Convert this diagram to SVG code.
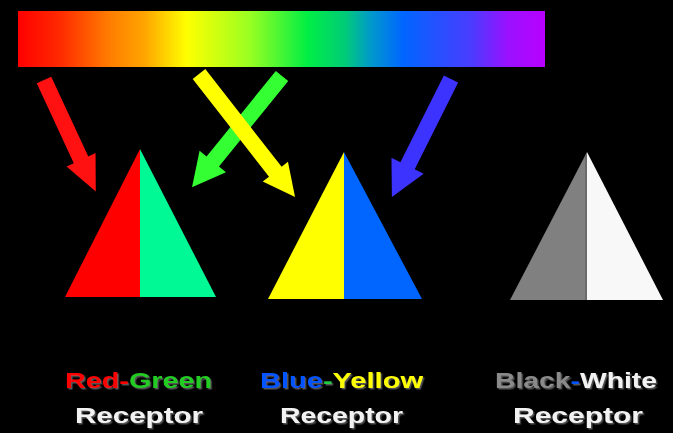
<svg xmlns="http://www.w3.org/2000/svg" width="673" height="433" viewBox="0 0 673 433">
  <style>
    .lbl { font-family: "Liberation Sans", Arial, sans-serif; font-weight: bold; font-size: 22px; filter: url(#shadow); }
    .white { fill: #f2f2f2; }
  </style>
  <defs>
    <linearGradient id="spectrum" x1="0" y1="0" x2="1" y2="0">
      <stop offset="0" stop-color="#ff0000"/>
      <stop offset="0.08" stop-color="#ff2a00"/>
      <stop offset="0.17" stop-color="#ff7a00"/>
      <stop offset="0.24" stop-color="#ffa500"/>
      <stop offset="0.32" stop-color="#ffff00"/>
      <stop offset="0.44" stop-color="#99ff22"/>
      <stop offset="0.55" stop-color="#00ee44"/>
      <stop offset="0.62" stop-color="#00cc77"/>
      <stop offset="0.67" stop-color="#0099cc"/>
      <stop offset="0.73" stop-color="#0066ff"/>
      <stop offset="0.86" stop-color="#4a3cff"/>
      <stop offset="0.93" stop-color="#9a10ff"/>
      <stop offset="1" stop-color="#b800ff"/>
    </linearGradient>
    <filter id="shadow" x="-10%" y="-20%" width="120%" height="150%">
      <feDropShadow dx="1.5" dy="1.5" stdDeviation="0.6" flood-color="#555555" flood-opacity="1"/>
    </filter>
  </defs>
  <rect x="0" y="0" width="673" height="433" fill="#000000"/>

  <g id="spectrum-bar">
    <rect x="18" y="11" width="527" height="56" fill="url(#spectrum)"/>
  </g>

  <g id="connectors">
    <polygon id="arrow-red" fill="#ff1111" transform="translate(44,80) rotate(65.1)" points="0,-8 88,-8 88,-16 123,0 88,16 88,8 0,8"/>
    <polygon id="arrow-green" fill="#33ff33" transform="translate(282,76) rotate(129)" points="0,-8 110,-8 110,-17 143,0 110,17 110,8 0,8"/>
    <polygon id="arrow-yellow" fill="#ffff00" transform="translate(199,74) rotate(52)" points="0,-8 124,-8 124,-16 156,0 124,16 124,8 0,8"/>
    <polygon id="arrow-blue" fill="#3d33ff" transform="translate(451,79) rotate(116.6)" points="0,-8 97,-8 97,-18 132,0 97,18 97,8 0,8"/>
  </g>

  <g id="receptor-red-green">
    <polygon points="140,149 140,297 65,297" fill="#ff0000"/>
    <polygon points="140,149 216,297 140,297" fill="#00f994"/>
  </g>

  <g id="receptor-blue-yellow">
    <polygon points="344,152 344,299 268,299" fill="#ffff00"/>
    <polygon points="344,152 422,299 344,299" fill="#0066ff"/>
  </g>

  <g id="receptor-black-white">
    <polygon points="587,152 587,300 510,300" fill="#808080"/>
    <polygon points="587,152 663,300 587,300" fill="#f8f8f8"/>
    <line x1="586" y1="155" x2="586" y2="300" stroke="#6a6a6a" stroke-width="2"/>
  </g>

  <g id="label-red-green">
    <text class="lbl" x="65" y="388" textLength="147" lengthAdjust="spacingAndGlyphs"><tspan fill="#ff0000">Red-</tspan><tspan fill="#22cc22">Green</tspan></text>
    <text class="lbl white" x="75" y="423" textLength="128" lengthAdjust="spacingAndGlyphs">Receptor</text>
  </g>

  <g id="label-blue-yellow">
    <text class="lbl" x="260" y="388" textLength="163" lengthAdjust="spacingAndGlyphs"><tspan fill="#0055ff">Blue</tspan><tspan fill="#22cc44">-</tspan><tspan fill="#ffff00">Yellow</tspan></text>
    <text class="lbl white" x="280" y="423" textLength="123" lengthAdjust="spacingAndGlyphs">Receptor</text>
  </g>

  <g id="label-black-white">
    <text class="lbl" x="495" y="388" textLength="162" lengthAdjust="spacingAndGlyphs"><tspan fill="#8a8a8a">Black</tspan><tspan fill="#0055ff">-</tspan><tspan fill="#f2f2f2">White</tspan></text>
    <text class="lbl white" x="513" y="423" textLength="130" lengthAdjust="spacingAndGlyphs">Receptor</text>
  </g>
</svg>
